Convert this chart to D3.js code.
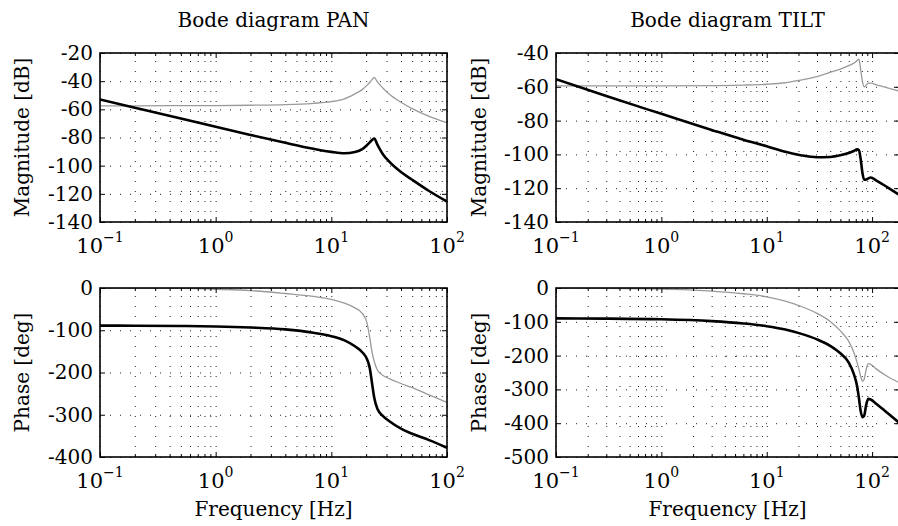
<!DOCTYPE html>
<html>
<head>
<meta charset="utf-8">
<script src="https://cdn.jsdelivr.net/npm/d3@7"></script>
<style>
body { margin: 0; background: #fff; }
text { font-family: "DejaVu Serif", serif; fill: #000; }
</style>
</head>
<body>
<svg id="chart" width="898" height="526"></svg>
<script>
// PAN axis
var panFreq      = [0.1, 0.2, 0.5, 1, 2, 4, 7, 10, 13, 16, 18.5, 20.3, 21.5, 22.5, 23.5, 25, 28, 32, 40, 50, 70, 100];
var panMagThick  = [-53, -58.8, -66.5, -72.4, -78.2, -83.8, -88, -90.2, -91.2, -90.3, -88.3, -85.5, -83.5, -81.8, -80.7, -85, -92, -97.5, -104.5, -110, -118, -125.5];
var panMagThin   = [-57.5, -57.5, -57.4, -57.3, -57.1, -56.7, -55.7, -54.5, -52.5, -49, -46, -43, -40.8, -38.8, -37.4, -40.5, -45, -49.5, -55, -59.5, -65, -69.5];
var panPhThick   = [-89, -89.3, -90, -91, -93.5, -98, -106, -114, -124, -138, -152, -168, -190, -226, -260, -286, -303, -316, -333, -345, -360, -378];
var panPhThin    = [0, -0.3, -1, -3, -6, -13, -20, -27, -36, -47, -60, -82, -118, -152, -174, -194, -207, -215, -226, -236, -253, -271];

// TILT axis
var tiltFreq     = [0.1, 0.3, 1, 3, 6, 10, 15, 21, 30, 40, 50, 60, 67, 72, 75, 78, 81, 84, 88, 92, 97, 110, 140, 180];
var tiltMagThick = [-55.5, -65.5, -76, -85.5, -91.3, -95.2, -98.5, -100.5, -101.7, -101.5, -100.5, -99.2, -98, -97, -97.5, -103, -111, -115, -114.8, -114.2, -113.7, -115.5, -119.5, -123.8];
var tiltMagThin  = [-59.5, -59.5, -59.5, -59.3, -59, -58.5, -57.6, -56, -54, -51.5, -49.5, -47.5, -46, -44.5, -43.7, -50, -57, -60, -59, -57.8, -57.8, -58.8, -60.7, -62.5];
var tiltPhThick  = [-90, -90.5, -92.5, -98, -105, -113, -123, -135, -152, -171, -193, -221, -254, -290, -326, -365, -382, -378, -345, -328, -330, -343, -370, -398];
var tiltPhThin   = [-0.5, -1, -3.5, -9, -17, -26, -39, -54, -75, -99, -127, -158, -190, -220, -240, -262, -276, -270, -240, -224, -226, -240, -262, -280];

var xMajor = [0.1, 1, 10, 100];
var panMagTicks  = [-140, -120, -100, -80, -60, -40, -20];
var tiltMagTicks = [-140, -120, -100, -80, -60, -40];
var panPhTicks   = [-400, -300, -200, -100, 0];
var tiltPhTicks  = [-500, -400, -300, -200, -100, 0];

var titles = ["Bode diagram PAN", "Bode diagram TILT"];

var svg = d3.select("#chart");
svg.append("rect").attr("width", 898).attr("height", 526).attr("fill", "#fff");

function zip(f, v) { return f.map(function(d, i) { return {f: d, v: v[i]}; }); }

function minorTicks(domain) {
  var out = [];
  for (var e = -1; e <= 2; e++) {
    for (var k = 1; k <= 9; k++) {
      var t = k * Math.pow(10, e);
      if (t >= domain[0] - 1e-9 && t <= domain[1] + 1e-9) out.push(t);
    }
  }
  return out;
}

var pid = 0;
function panel(o) {
  pid++;
  var w = o.x1 - o.x0, h = o.y1 - o.y0;
  var x = d3.scaleLog().domain(o.xDomain).range([0, w]);
  var y = d3.scaleLinear().domain(o.yDomain).range([h, 0]);
  var g = svg.append("g").attr("transform", "translate(" + o.x0 + "," + o.y0 + ")");

  svg.append("clipPath").attr("id", "clip" + pid)
    .append("rect").attr("width", w).attr("height", h);

  var allX = minorTicks(o.xDomain);
  var majX = xMajor.filter(function(d) { return d <= o.xDomain[1]; });
  var minorX = allX.filter(function(d) { return xMajor.indexOf(d) < 0; });

  // dotted grid
  var gx = g.append("g").attr("transform", "translate(0," + h + ")")
    .call(d3.axisBottom(x).tickValues(allX).tickSize(-h).tickFormat(""));
  var gy = g.append("g")
    .call(d3.axisLeft(y).tickValues(o.yTicks).tickSize(-w).tickFormat(""));
  [gx, gy].forEach(function(a) {
    a.select(".domain").remove();
    a.selectAll("line").attr("stroke", "#222").attr("stroke-width", 1)
      .attr("stroke-dasharray", "1,9");
  });

  // curves
  var line = d3.line().x(function(d) { return x(d.f); }).y(function(d) { return y(d.v); })
    .curve(d3.curveMonotoneX);
  var cg = g.append("g").attr("clip-path", "url(#clip" + pid + ")");
  cg.append("path").datum(zip(o.freq, o.thin)).attr("d", line)
    .attr("fill", "none").attr("stroke", "#9a9a9a").attr("stroke-width", 1.3);
  cg.append("path").datum(zip(o.freq, o.thick)).attr("d", line)
    .attr("fill", "none").attr("stroke", "#000").attr("stroke-width", 2.6);

  // inward ticks
  function tickAxis(gen, tr) {
    var a = g.append("g").attr("transform", tr).call(gen);
    a.select(".domain").remove();
    a.selectAll("line").attr("stroke", "#000");
    return a;
  }
  tickAxis(d3.axisBottom(x).tickValues(majX).tickSize(-5).tickFormat(""), "translate(0," + h + ")");
  tickAxis(d3.axisBottom(x).tickValues(minorX).tickSize(-3).tickFormat(""), "translate(0," + h + ")");
  tickAxis(d3.axisTop(x).tickValues(majX).tickSize(-5).tickFormat(""), "translate(0,0)");
  tickAxis(d3.axisTop(x).tickValues(minorX).tickSize(-3).tickFormat(""), "translate(0,0)");
  tickAxis(d3.axisRight(y).tickValues(o.yTicks).tickSize(-5).tickFormat(""), "translate(" + w + ",0)");
  var ya = tickAxis(d3.axisLeft(y).tickValues(o.yTicks).tickSize(-5).tickPadding(7)
    .tickFormat(function(d) { return String(d); }), "translate(0,0)");
  ya.selectAll("text").style("font-family", '"DejaVu Serif", serif').style("font-size", "20px").attr("fill", "#000");

  // frame
  g.append("rect").attr("width", w).attr("height", h)
    .attr("fill", "none").attr("stroke", "#000").attr("stroke-width", 1.6);

  // x tick labels 10^k
  majX.forEach(function(d) {
    var e = Math.round(Math.log10(d));
    var t = g.append("text").attr("x", x(d)).attr("y", h + 31)
      .attr("text-anchor", "middle").style("font-size", "21px");
    t.append("tspan").text("10");
    t.append("tspan").attr("dy", -11).style("font-size", "14px")
      .text(e < 0 ? "\u2212" + Math.abs(e) : String(e));
  });

  // y label
  g.append("text").attr("transform", "translate(" + (o.labelX - o.x0) + "," + (h / 2) + ") rotate(-90)")
    .attr("text-anchor", "middle").style("font-size", "20px").text(o.yLabel);

  if (o.title) {
    g.append("text").attr("x", w / 2).attr("y", -26).attr("text-anchor", "middle")
      .style("font-size", "20px").text(o.title);
  }
  if (o.xLabel) {
    g.append("text").attr("x", w / 2).attr("y", h + 59).attr("text-anchor", "middle")
      .style("font-size", "20px").text(o.xLabel);
  }
}

panel({x0: 100, x1: 447, y0: 53, y1: 222, xDomain: [0.1, 100], yDomain: [-140, -20], yTicks: panMagTicks,
  freq: panFreq, thick: panMagThick, thin: panMagThin, yLabel: "Magnitude [dB]", labelX: 29, title: titles[0]});
panel({x0: 556, x1: 899, y0: 53, y1: 222, xDomain: [0.1, 180], yDomain: [-140, -40], yTicks: tiltMagTicks,
  freq: tiltFreq, thick: tiltMagThick, thin: tiltMagThin, yLabel: "Magnitude [dB]", labelX: 486, title: titles[1]});
panel({x0: 100, x1: 447, y0: 288, y1: 457, xDomain: [0.1, 100], yDomain: [-400, 0], yTicks: panPhTicks,
  freq: panFreq, thick: panPhThick, thin: panPhThin, yLabel: "Phase [deg]", labelX: 29, xLabel: "Frequency [Hz]"});
panel({x0: 556, x1: 899, y0: 288, y1: 457, xDomain: [0.1, 180], yDomain: [-500, 0], yTicks: tiltPhTicks,
  freq: tiltFreq, thick: tiltPhThick, thin: tiltPhThin, yLabel: "Phase [deg]", labelX: 486, xLabel: "Frequency [Hz]"});
</script>
</body>
</html>
